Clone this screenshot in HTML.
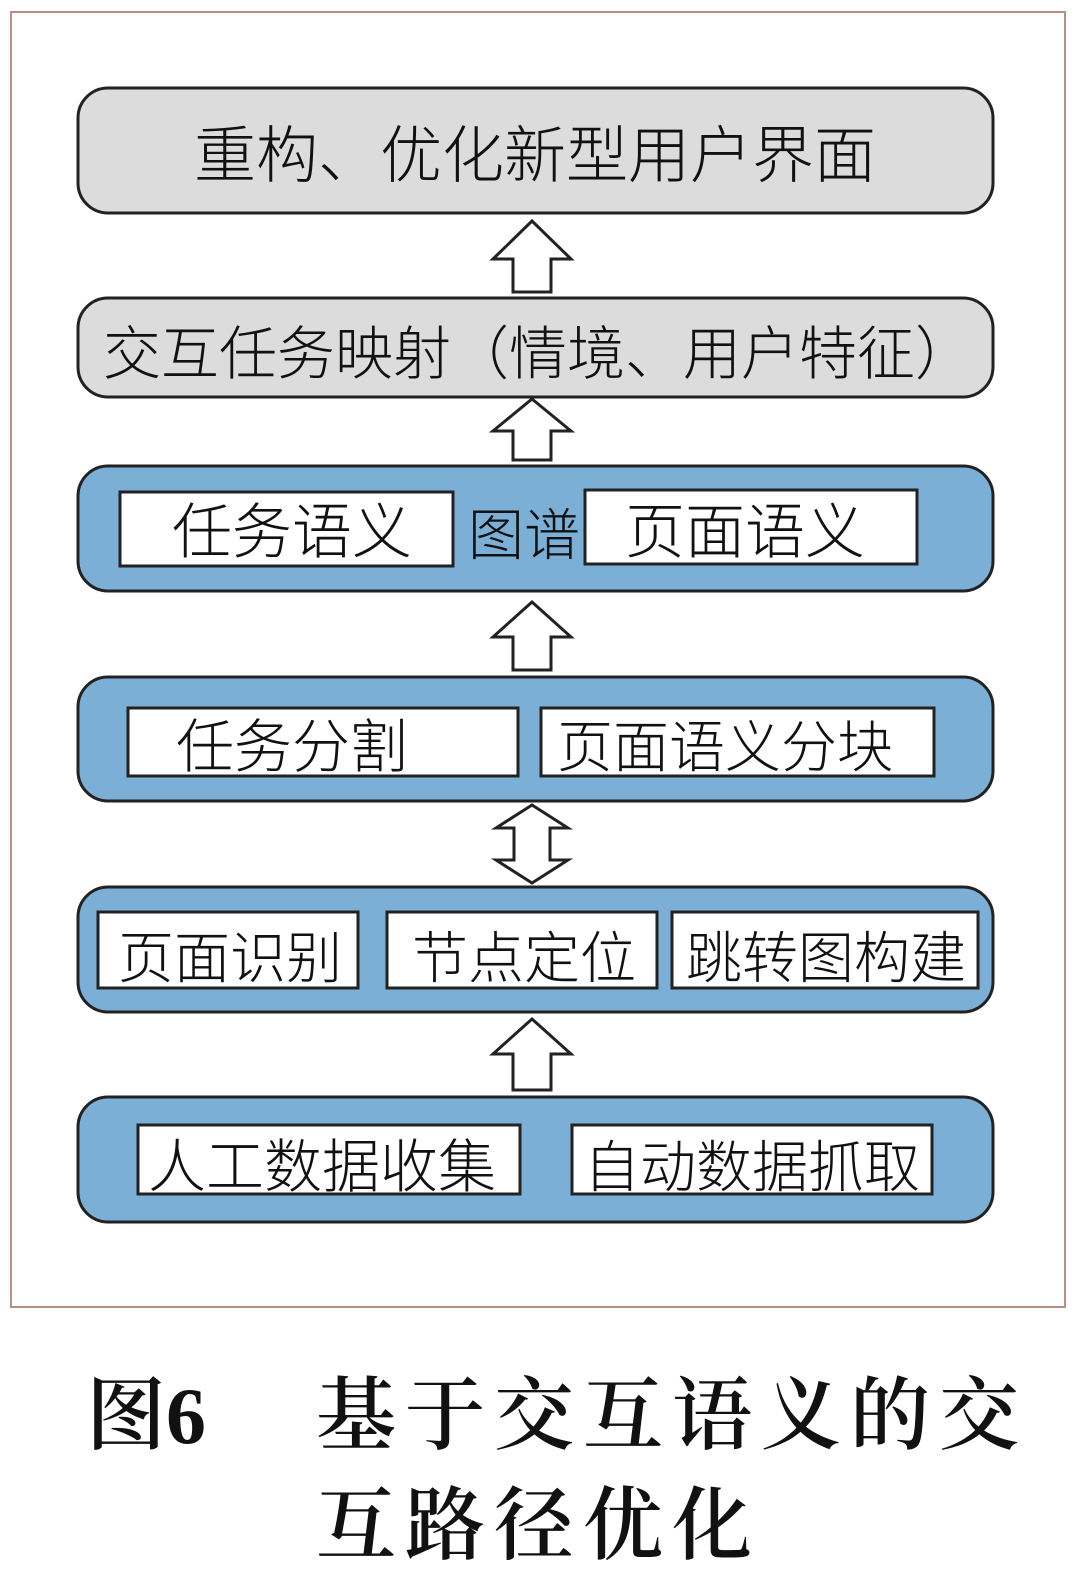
<!DOCTYPE html>
<html><head><meta charset="utf-8"><style>
body{margin:0;background:#fff;}
svg text{font-family:"Liberation Sans","Noto Sans CJK SC",sans-serif;font-weight:300;fill:#111;}
svg text.cap{font-family:"Liberation Serif","Noto Serif CJK SC",serif;font-weight:600;fill:#111;}
</style></head><body>
<svg width="1080" height="1580" viewBox="0 0 1080 1580" xmlns="http://www.w3.org/2000/svg">
<rect x="11" y="12" width="1054" height="1295" fill="#fff" stroke="#b89080" stroke-width="2"/>
<g stroke="#222" stroke-width="3">
<rect x="78" y="88" width="915" height="125" rx="30" fill="#dcdcdc"/>
<rect x="78" y="298" width="915" height="99" rx="30" fill="#dcdcdc"/>
<rect x="78" y="466" width="915" height="125" rx="30" fill="#7bafd6"/>
<rect x="78" y="677" width="915" height="124" rx="30" fill="#7bafd6"/>
<rect x="78" y="887" width="915" height="125" rx="30" fill="#7bafd6"/>
<rect x="78" y="1097" width="915" height="125" rx="30" fill="#7bafd6"/>
</g>
<g fill="#fff" stroke="#222" stroke-width="3">
<rect x="120" y="492" width="333" height="74"/>
<rect x="585" y="490" width="332" height="74"/>
<rect x="128" y="708" width="390" height="68"/>
<rect x="541" y="708" width="393" height="68"/>
<rect x="98" y="912" width="260" height="76"/>
<rect x="387" y="912" width="270" height="76"/>
<rect x="672" y="912" width="306" height="76"/>
<rect x="138" y="1125" width="382" height="69"/>
<rect x="572" y="1125" width="360" height="69"/>
</g>
<g fill="#fff" stroke="#222" stroke-width="3" stroke-linejoin="miter">
<polygon points="532,221 571,259 551,259 551,292 513,292 513,259 493,259"/>
<polygon points="532,399 571,431 551,431 551,460 513,460 513,431 493,431"/>
<polygon points="532,602 571,637 551,637 551,670 513,670 513,637 493,637"/>
<polygon points="532,805 568,828 550,828 550,860 568,860 532,883 496,860 514,860 514,828 496,828"/>
<polygon points="532,1019 571,1054 551,1054 551,1090 513,1090 513,1054 493,1054"/>
</g>
<text x="535" y="177" font-size="62" text-anchor="middle">重构、优化新型用户界面</text>
<text x="538" y="374" font-size="58" text-anchor="middle">交互任务映射（情境、用户特征）</text>
<text x="292" y="553" font-size="60" text-anchor="middle">任务语义</text>
<text x="524" y="555" font-size="56" text-anchor="middle">图谱</text>
<text x="745" y="553" font-size="60" text-anchor="middle">页面语义</text>
<text x="292" y="767" font-size="58" text-anchor="middle">任务分割</text>
<text x="725" y="767" font-size="56" text-anchor="middle">页面语义分块</text>
<text x="230" y="978" font-size="56" text-anchor="middle">页面识别</text>
<text x="524" y="978" font-size="56" text-anchor="middle">节点定位</text>
<text x="826" y="978" font-size="56" text-anchor="middle">跳转图构建</text>
<text x="322" y="1187" font-size="58" text-anchor="middle">人工数据收集</text>
<text x="752" y="1187" font-size="56" text-anchor="middle">自动数据抓取</text>
<text class="cap" x="86" y="1443" font-size="80">图6</text>
<text class="cap" x="316" y="1443" font-size="80" letter-spacing="9">基于交互语义的交</text>
<text class="cap" x="316" y="1553" font-size="80" letter-spacing="9">互路径优化</text>
</svg>
</body></html>
